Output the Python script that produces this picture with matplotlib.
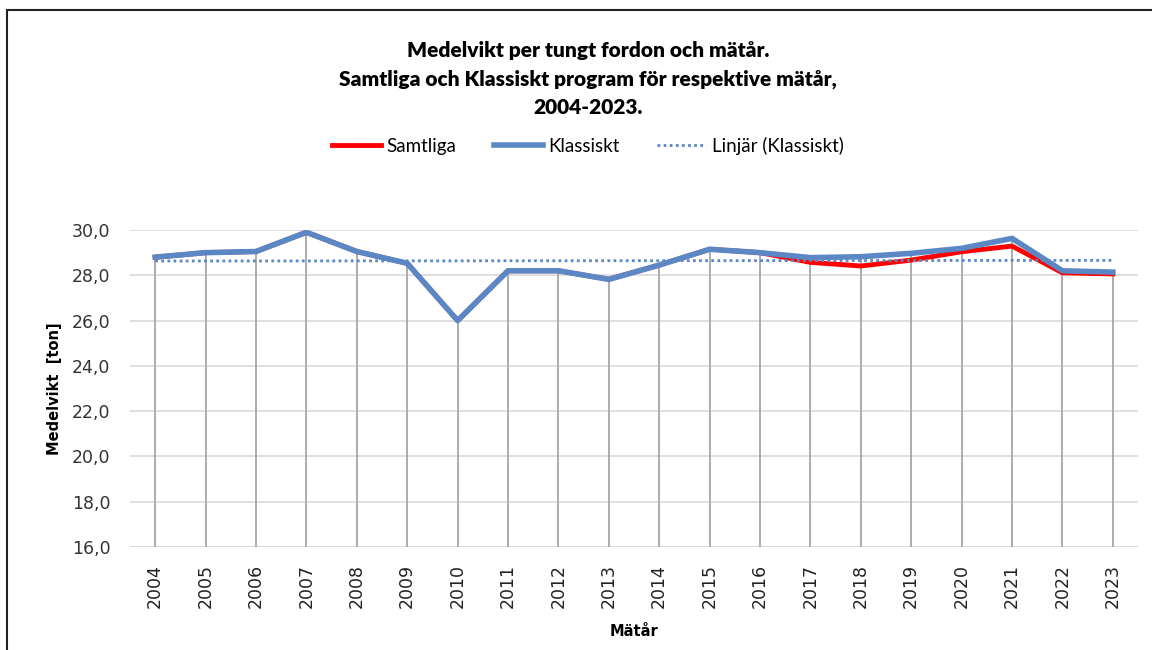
import numpy as np
import matplotlib.pyplot as plt
from matplotlib.patches import Rectangle

years = list(range(2004, 2024))
samtliga = [28.8, 29.0, 29.05, 29.9, 29.05, 28.53, 26.0, 28.2, 28.2, 27.82,
            28.45, 29.15, 29.0, 28.57, 28.41, 28.67, 29.04, 29.29, 28.11, 28.06]
klassiskt = [28.8, 29.0, 29.05, 29.9, 29.05, 28.53, 26.0, 28.2, 28.2, 27.82,
             28.45, 29.15, 29.0, 28.78, 28.82, 28.97, 29.19, 29.63, 28.2, 28.14]
yticks = [16, 18, 20, 22, 24, 26, 28, 30]

red = "#ff0000"
blue = "#5b87c5"
grid = "#d9d9d9"
drop = "#a6a6a6"

fig = plt.figure(figsize=(11.52, 6.5), dpi=100)
ax = fig.add_axes([130 / 1152, 1 - 547 / 650, 1008 / 1152, 317 / 650])

x = np.array(years)
ks = np.array(klassiskt)
ss = np.array(samtliga)

# linear trend of Klassiskt
k, m = np.polyfit(x, ks, 1)

for yv in yticks:
    ax.axhline(yv, color=grid, lw=1.5 if yv == 16 else 1.2, zorder=1)
ax.vlines(x, 16, np.maximum(ks, ss), color=drop, lw=1.3, zorder=2)

ax.plot(x, ss, color=red, lw=3.5, solid_joinstyle="round", zorder=3, label="Samtliga")
ax.plot(x, ks, color=blue, lw=4, solid_joinstyle="round", zorder=4, label="Klassiskt")
ax.plot(x, k * x + m, color=blue, lw=2, linestyle=(0, (1, 1.2)), zorder=5,
        label="Linjär (Klassiskt)")

ax.set_xlim(2003.5, 2023.5)
ax.set_ylim(16, 30)
ax.set_yticks(yticks)
ax.set_yticklabels([f"{v:.1f}".replace(".", ",") for v in yticks], fontsize=12.5,
                   color="#333333")
ax.set_xticks(years)
ax.set_xticklabels([str(y) for y in years], rotation=90, fontsize=12.5, color="#222222")
ax.tick_params(length=0, pad=12)
ax.tick_params(axis="y", pad=14)
for s in ax.spines.values():
    s.set_visible(False)

ax.set_ylabel("Medelvikt  [ton]", fontsize=10.5, fontweight="heavy", labelpad=7)
ax.set_xlabel("Mätår", fontsize=10.5, fontweight="heavy", labelpad=12)

tx = 588 / 1152
fig.text(tx, 1 - 50 / 650, "Medelvikt per tungt fordon och mätår.",
         ha="center", va="center", fontsize=15, fontweight="heavy", family="Lato")
fig.text(tx, 1 - 79 / 650, "Samtliga och Klassiskt program för respektive mätår,",
         ha="center", va="center", fontsize=15, fontweight="heavy", family="Lato")
fig.text(tx, 1 - 107 / 650, "2004-2023.",
         ha="center", va="center", fontsize=15, fontweight="heavy", family="Lato")

fig.legend(loc="center", bbox_to_anchor=(tx, 1 - 146 / 650), ncol=3, frameon=False,
           handlelength=2.6, handletextpad=0.3, columnspacing=2.0,
           prop={"family": "Lato", "size": 13.5})

fig.patches.append(Rectangle((7 / 1152, -0.1), 1.2, 1.1 - 10 / 650,
                             transform=fig.transFigure, fill=False,
                             edgecolor="#222222", lw=1.5))

fig.savefig("out.png", dpi=100)
